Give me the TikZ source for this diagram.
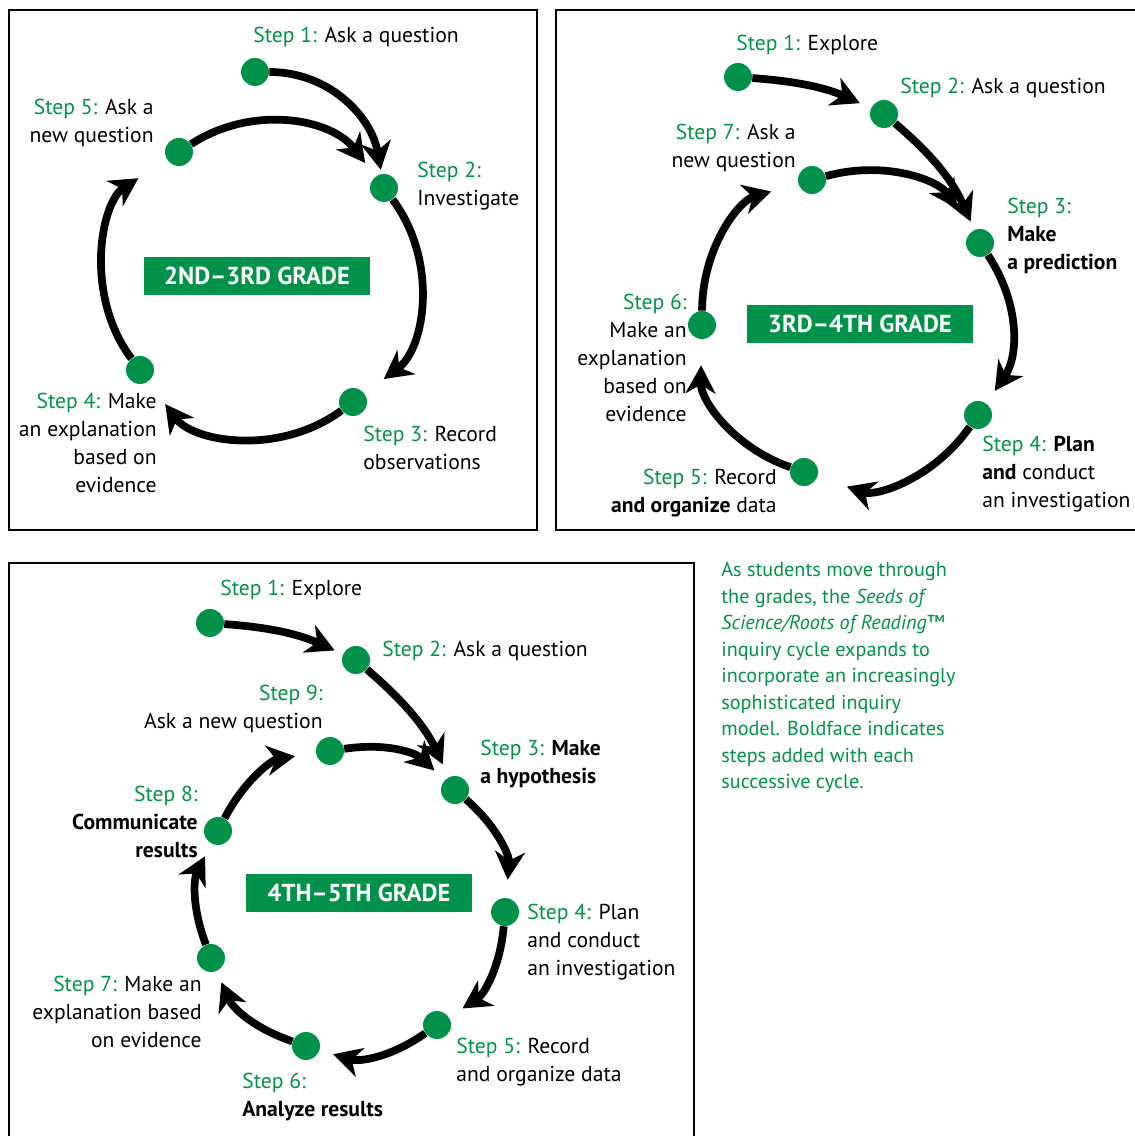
\documentclass[tikz,border=0pt]{standalone}
\usepackage{fontspec}
\setmainfont{PT Sans}
\usetikzlibrary{arrows.meta}
\definecolor{sgreen}{RGB}{0,146,72}
\newcommand{\steplbl}[1]{\textcolor{sgreen}{Step #1:}}

\begin{document}
\begin{tikzpicture}[x=0.02cm, y=0.02cm,
    dot/.style={circle, fill=sgreen, minimum size=0.56cm, inner sep=0pt},
    cyc/.style={line width=4.4pt, -{Stealth[length=16pt, width=17pt, inset=5pt]}},
    lbl/.style={font=\fontsize{12.3}{15.9}\selectfont, inner sep=0pt},
    grade/.style={fill=sgreen, text=white, font=\bfseries\fontsize{14}{17}\selectfont, minimum width=4.54cm, minimum height=0.76cm, inner sep=0pt},
    frame/.style={line width=1.1pt}]
  \useasboundingbox (0,0) rectangle (1134,1136);
  % panel frames
  \draw[frame] (9,606) rectangle (537,1126);
  \draw[frame] (556,606) rectangle (1160,1126);
  \draw[frame] (9,-20) rectangle (694,573);

  % 2nd-3rd grade
  \node[grade] (g1) at (257,860) {2ND--3RD GRADE};
  \node[dot] (a1) at (255,1064) {};
  \node[dot] (a2) at (384,948) {};
  \node[dot] (a3) at (353,734) {};
  \node[dot] (a4) at (140,766) {};
  \node[dot] (a5) at (179,984) {};
  \draw[cyc, shorten >=0.08cm] (a1) to[out=0, in=100] (a2);
  \draw[cyc, shorten >=0.34cm] (a5) to[bend left=43] (a2);
  \draw[cyc, shorten >=0.48cm] (a2) to[bend left=45] (a3);
  \draw[cyc, shorten >=0.56cm] (a3) to[bend left=45] (a4);
  \draw[cyc, shorten >=0.68cm] (a4) to[bend left=47] (a5);
  \node[lbl, anchor=west] (ta1) at (253,1099) {\steplbl{1} Ask a question};
  \node[lbl, anchor=east, align=right] (ta5) at (154,1013) {\steplbl{5} Ask a\\new question};
  \node[lbl, anchor=west, align=left] (ta2) at (417,950) {\steplbl{2}\\Investigate};
  \node[lbl, anchor=east, align=right] (ta4) at (157,693) {\steplbl{4} Make\\an explanation\\based on\\evidence};
  \node[lbl, anchor=west, align=left] (ta3) at (363,688) {\steplbl{3} Record\\observations};

  % 3rd-4th grade
  \node[grade] (g2) at (860,812) {3RD--4TH GRADE};
  \node[dot] (b1) at (738,1059) {};
  \node[dot] (b2) at (884,1022) {};
  \node[dot] (b3) at (980,893) {};
  \node[dot] (b4) at (978,721) {};
  \node[dot] (b5) at (804,664) {};
  \node[dot] (b6) at (702,811) {};
  \node[dot] (b7) at (812,956) {};
  \draw[cyc, shorten >=0.24cm] (b1) to[bend left=10] (b2);
  \draw[cyc, shorten >=0.18cm] (b2) to[bend left=13] (b3);
  \draw[cyc, shorten >=0.54cm] (b7) to[bend left=36] (b3);
  \draw[cyc, shorten >=0.30cm] (b3) to[bend left=34] (b4);
  \draw[cyc, shorten >=0.62cm] (b4) to[bend left=37] (b5);
  \draw[cyc, shorten >=0.52cm] (b5) to[bend left=36] (b6);
  \draw[cyc, shorten >=0.56cm] (b6) to[bend left=37] (b7);
  \node[lbl, anchor=west] (tb1) at (736,1091) {\steplbl{1} Explore};
  \node[lbl, anchor=west] (tb2) at (900,1048) {\steplbl{2} Ask a question};
  \node[lbl, anchor=east, align=right] (tb7) at (796,988) {\steplbl{7} Ask a\\new question};
  \node[lbl, anchor=west, align=left] (tb3) at (1007,900) {\steplbl{3}\\\textbf{Make}\\\textbf{a prediction}};
  \node[lbl, anchor=east, align=right] (tb6) at (687,778) {\steplbl{6}\\Make an\\explanation\\based on\\evidence};
  \node[lbl, anchor=west, align=left] (tb4) at (982,662) {\steplbl{4} \textbf{Plan}\\\textbf{and} conduct\\an investigation};
  \node[lbl, anchor=east, align=right] (tb5) at (777,643) {\steplbl{5} Record\\\textbf{and organize} data};

  % 4th-5th grade
  \node[grade] (g3) at (359,243) {4TH--5TH GRADE};
  \node[dot] (c1) at (210,513) {};
  \node[dot] (c2) at (356,476) {};
  \node[dot] (c3) at (455,346) {};
  \node[dot] (c4) at (505,224) {};
  \node[dot] (c5) at (437,111) {};
  \node[dot] (c6) at (306,90) {};
  \node[dot] (c7) at (211,178) {};
  \node[dot] (c8) at (218,305) {};
  \node[dot] (c9) at (330,385) {};
  \draw[cyc, shorten >=0.18cm] (c1) to[bend left=10] (c2);
  \draw[cyc, shorten >=0.28cm] (c2) to[bend left=12] (c3);
  \draw[cyc, shorten >=0.28cm] (c9) to[bend left=26] (c3);
  \draw[cyc, shorten >=0.36cm] (c3) to[bend left=27] (c4);
  \draw[cyc, shorten >=0.32cm] (c4) to[bend left=26] (c5);
  \draw[cyc, shorten >=0.28cm] (c5) to[bend left=26] (c6);
  \draw[cyc, shorten >=0.24cm] (c6) to[bend left=24] (c7);
  \draw[cyc, shorten >=0.28cm] (c7) to[bend left=24] (c8);
  \draw[cyc, shorten >=0.42cm] (c8) to[bend left=27] (c9);
  \node[lbl, anchor=west] (tc1) at (220,546) {\steplbl{1} Explore};
  \node[lbl, anchor=west] (tc2) at (382,485) {\steplbl{2} Ask a question};
  \node[lbl, anchor=east, align=right] (tc9) at (323,427) {\steplbl{9}\\Ask a new question};
  \node[lbl, anchor=west, align=left] (tc3) at (480,372) {\steplbl{3} \textbf{Make}\\\textbf{a hypothesis}};
  \node[lbl, anchor=east, align=right] (tc8) at (198,314) {\steplbl{8}\\\textbf{Communicate}\\\textbf{results}};
  \node[lbl, anchor=west, align=left] (tc4) at (527,194) {\steplbl{4} Plan\\and conduct\\an investigation};
  \node[lbl, anchor=east, align=right] (tc7) at (202,124) {\steplbl{7} Make an\\explanation based\\on evidence};
  \node[lbl, anchor=west, align=left] (tc5) at (456,74) {\steplbl{5} Record\\and organize data};
  \node[lbl, anchor=west, align=left] (tc6) at (242,39) {\steplbl{6}\\\textbf{Analyze results}};

  % note
  \node[anchor=north west, align=left, text=sgreen, font=\fontsize{11.5}{15.1}\selectfont, inner sep=0pt] (note) at (721,574)
    {As students move through\\the grades, the \textit{Seeds of}\\\textit{Science/Roots of Reading}\texttrademark\\inquiry cycle expands to\\incorporate an increasingly\\sophisticated inquiry\\model. Boldface indicates\\steps added with each\\successive cycle.};
\end{tikzpicture}
\end{document}
